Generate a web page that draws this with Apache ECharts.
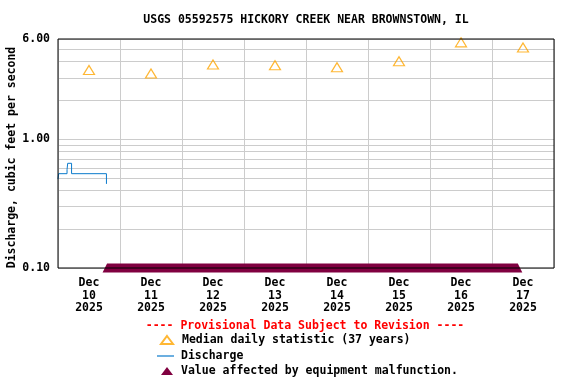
<!DOCTYPE html>
<html><head><meta charset="utf-8">
<script src="https://cdn.jsdelivr.net/npm/echarts@6/dist/echarts.min.js"></script>
<style>html,body{margin:0;padding:0;background:#fff}#c{width:576px;height:384px}</style>
</head><body><div id="c"></div>
<script>
// Categories: days shown on x axis (Dec 10 00:00 .. Dec 18 00:00)
const dayLabels = ['Dec\n10\n2025','Dec\n11\n2025','Dec\n12\n2025','Dec\n13\n2025','Dec\n14\n2025','Dec\n15\n2025','Dec\n16\n2025','Dec\n17\n2025'];
// Median daily statistic (hours since Dec 10 00:00, cfs)
const medianHours  = [12, 36, 60, 84, 108, 132, 156, 180];
const medianValues = [3.45, 3.24, 3.80, 3.75, 3.62, 4.03, 5.65, 5.15];
// Discharge (step line), hours since Dec 10 00:00
const dischargeHours  = [0, 0.25, 3.5, 3.75, 5.25, 18.75];
const dischargeValues = [0.49, 0.54, 0.58, 0.65, 0.54, 0.45];
// Equipment malfunction period (hours since Dec 10 00:00) at axis floor
const malfunctionStart = 19;
const malfunctionEnd = 178;
const malfunctionLevel = 0.1;
// Y axis tick labels and grid lines
const yLabelValues = [0.1, 1, 6];
const yGridValues = [0.1, 0.2, 0.3, 0.4, 0.5, 0.6, 0.7, 0.8, 0.9, 1, 2, 3, 4, 5, 6];

const FONT = 'DejaVu Sans Mono';
const FS = 11.5;
const txt = {fontFamily: FONT, fontWeight: 'bold', fontSize: FS, color: '#000'};

const chart = echarts.init(document.getElementById('c'), null, {renderer: 'canvas'});
chart.setOption({
  animation: false,
  backgroundColor: '#fff',
  title: [
    {text: 'USGS 05592575 HICKORY CREEK NEAR BROWNSTOWN, IL', left: 306, top: 14, textAlign: 'center', padding: 0, textStyle: txt},
    {text: '---- Provisional Data Subject to Revision ----', left: 305, top: 320, textAlign: 'center', padding: 0, textStyle: Object.assign({}, txt, {color: '#ff0000'})}
  ],
  legend: [
    {data: ['Median daily statistic (37 years)'], left: 160, top: 334, padding: 0, itemWidth: 12, itemHeight: 8, selectedMode: false, textStyle: Object.assign({}, txt, {padding: [0,0,0,4]})},
    {data: [{name: 'Discharge', icon: 'rect', itemStyle: {color: '#0a7acc'}}], left: 157, top: 350, padding: 0, itemWidth: 17, itemHeight: 1.2, selectedMode: false, textStyle: Object.assign({}, txt, {padding: [0,0,0,2]})},
    {data: [{name: 'Value affected by equipment malfunction.', icon: 'triangle', itemStyle: {color: '#800040'}}], left: 161, top: 365, padding: 0, itemWidth: 12, itemHeight: 8, selectedMode: false, textStyle: Object.assign({}, txt, {padding: [0,0,0,3]})}
  ],
  grid: {left: 58, right: 22, top: 39, bottom: 116, containLabel: false, outerBoundsMode: 'none',
         show: true, borderColor: '#000', borderWidth: 1, backgroundColor: 'rgba(0,0,0,0)', z: 10},
  xAxis: [
    {type: 'category', data: dayLabels, boundaryGap: true,
     axisLine: {show: false}, axisTick: {show: false},
     axisLabel: Object.assign({}, txt, {interval: 0, lineHeight: 12.5, margin: 9}),
     splitLine: {show: true, interval: 0, lineStyle: {color: '#cccccc', width: 1}}},
    {type: 'value', min: 0, max: 192, show: false}
  ],
  yAxis: {
    type: 'log', logBase: 10, min: 0.1, max: 6,
    axisLine: {show: false},
    axisTick: {show: false, customValues: yGridValues},
    axisLabel: Object.assign({}, txt, {customValues: yLabelValues, margin: 8, formatter: v => Number(v).toFixed(2)}),
    splitLine: {show: true, lineStyle: {color: '#cccccc', width: 1}},
    name: 'Discharge, cubic feet per second', nameLocation: 'middle', nameGap: 40, nameMoveOverlap: false,
    nameTextStyle: Object.assign({}, txt, {padding: [0, 8, 0, 0]})
  },
  series: [
    {name: 'Median daily statistic (37 years)', type: 'scatter', xAxisIndex: 1,
     data: medianHours.map((h, i) => [h, medianValues[i]]),
     symbol: 'triangle', symbolSize: [11, 9], z: 4,
     itemStyle: {color: 'rgba(0,0,0,0)', borderColor: '#ffa500', borderWidth: 1.2}},
    {name: 'Discharge', type: 'line', xAxisIndex: 1, step: 'end', symbol: 'none',
     data: dischargeHours.map((h, i) => [h, dischargeValues[i]]),
     lineStyle: {color: '#0a7acc', width: 1}, itemStyle: {color: '#0a7acc'}},
    {name: 'Value affected by equipment malfunction.', type: 'custom', xAxisIndex: 1,
     data: [[malfunctionStart, malfunctionEnd, malfunctionLevel]],
     encode: {x: [0, 1], y: 2},
     itemStyle: {color: '#800040'},
     renderItem: function (params, api) {
       const a = api.coord([api.value(0), api.value(2)]);
       const b = api.coord([api.value(1), api.value(2)]);
       const w = 4.5, h = 4.5;
       return {type: 'polygon', shape: {points: [[a[0] - w, a[1] + h], [a[0], a[1] - h], [b[0], b[1] - h], [b[0] + w, b[1] + h]]},
               style: {fill: '#800040'}};
     }}
  ]
});
</script></body></html>
